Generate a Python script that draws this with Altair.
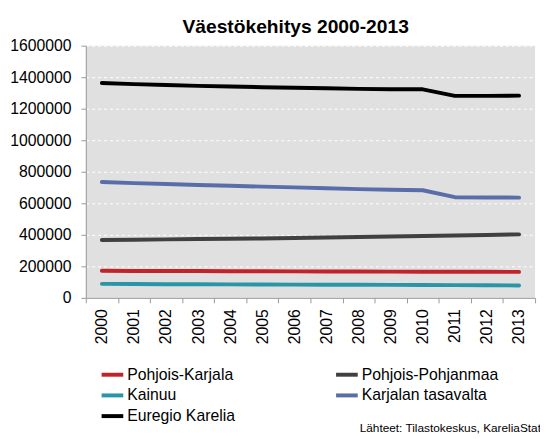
import altair as alt
import pandas as pd

years = [str(y) for y in range(2000, 2014)]
series = ["Pohjois-Karjala", "Pohjois-Pohjanmaa", "Kainuu", "Karjalan tasavalta", "Euregio Karelia"]
colors = ["#c1232b", "#404040", "#2b95a8", "#5a6dab", "#000000"]
widths = [4, 4, 4, 4, 5.5]
# legend entries, listed column by column (two columns)
legend_order = ["Pohjois-Karjala", "Kainuu", "Euregio Karelia", "Pohjois-Pohjanmaa", "Karjalan tasavalta"]

pohjois_karjala = [172000, 171000, 170500, 170000, 169500, 168500, 168000, 167500, 167000, 166500, 166000, 165500, 165500, 165000]
pohjois_pohjanmaa = [367000, 369000, 371000, 373000, 375000, 377000, 380000, 383000, 386000, 389000, 392000, 396000, 399000, 403000]
kainuu = [89000, 88000, 87000, 86000, 85500, 85000, 84000, 83500, 83000, 82500, 82000, 81000, 80000, 79000]
karjalan_tasavalta = [735000, 728000, 722000, 716000, 711000, 706000, 701000, 696000, 690000, 686000, 683000, 639000, 637000, 636000]
euregio_karelia = [1363000, 1356000, 1350500, 1345000, 1341000, 1336500, 1333000, 1330000, 1326000, 1324000, 1323000, 1281500, 1281500, 1283000]

y_ticks = [0, 200000, 400000, 600000, 800000, 1000000, 1200000, 1400000, 1600000]
title_text = "Väestökehitys 2000-2013"
source_text = "Lähteet: Tilastokeskus, KareliaStat"

values = [pohjois_karjala, pohjois_pohjanmaa, kainuu, karjalan_tasavalta, euregio_karelia]
rows = []
for name, vals in zip(series, values):
    for yr, v in zip(years, vals):
        rows.append({"year": yr, "series": name, "value": v})
df = pd.DataFrame(rows)

color_map = dict(zip(series, colors))
width_map = dict(zip(series, widths))

FONT = "Liberation Sans"

lines = alt.Chart(df).mark_line(strokeCap="round", strokeJoin="round").encode(
    x=alt.X("year:O", sort=years,
            scale=alt.Scale(type="band", paddingInner=0, paddingOuter=0),
            axis=alt.Axis(title=None, labelAngle=270, tickBand="extent", labelPadding=6,
                          labelFontSize=16)),
    y=alt.Y("value:Q", scale=alt.Scale(domain=[0, 1600000], nice=False),
            axis=alt.Axis(title=None, values=y_ticks, format="d", labelPadding=10,
                          labelFontSize=16)),
    color=alt.Color("series:N", sort=legend_order,
                    scale=alt.Scale(domain=legend_order, range=[color_map[s] for s in legend_order]),
                    legend=alt.Legend(orient="none", legendX=14, legendY=321, columns=2,
                                      columnPadding=94, rowPadding=0, symbolType="stroke",
                                      symbolSize=484, symbolStrokeWidth=4, labelFontSize=16,
                                      labelFont=FONT, labelOffset=2, title=None)),
    strokeWidth=alt.StrokeWidth("series:N",
                                scale=alt.Scale(domain=legend_order, range=[width_map[s] for s in legend_order]),
                                legend=None),
)

source = alt.Chart(pd.DataFrame({"t": [source_text]})).mark_text(
    align="left", baseline="middle", fontSize=12, font=FONT, color="#000000"
).encode(text="t:N", x=alt.value(278), y=alt.value(388))

chart = alt.layer(lines, source).properties(
    width=456, height=256,
    autosize=alt.AutoSizeParams(type="none"),
    padding={"left": 79, "top": 35, "right": 5, "bottom": 140},
    title=alt.Title(title_text, fontSize=19.5, font=FONT, fontWeight="bold", anchor="middle",
                    dx=-15, offset=0, color="#000000"),
).configure_view(fill="#e0e0e0", strokeWidth=0).configure_axis(
    gridColor="#ffffff", gridDash=[3, 3], gridWidth=1, domainColor="#999999",
    tickColor="#999999", labelFont=FONT, labelColor="#000000", tickSize=5,
)

chart.save("out.html", embed_options={"renderer": "svg", "actions": False})
